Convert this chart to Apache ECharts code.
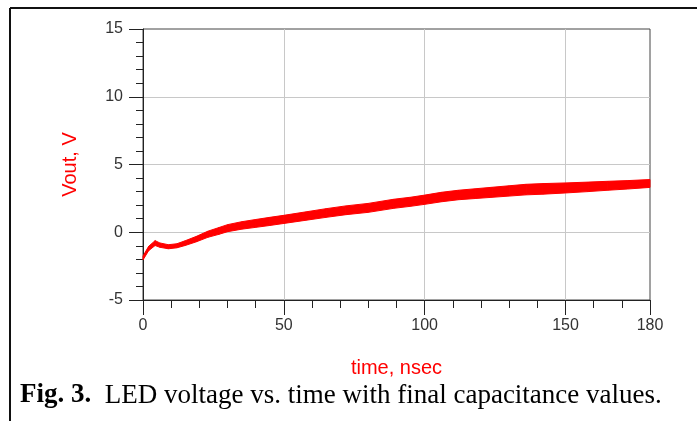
<!DOCTYPE html>
<html>
<head>
<meta charset="utf-8">
<title>LED voltage vs. time</title>
<script src="https://cdn.jsdelivr.net/npm/echarts@6/dist/echarts.min.js"></script>
<style>
  html, body { margin: 0; padding: 0; background: #fff; }
  #chart { width: 697px; height: 421px; }
</style>
</head>
<body>
<div id="chart"></div>
<script>
// time axis (nsec) and the trace
var timeNs = [0, 2, 4.3, 6, 9, 12, 15, 19, 23, 27, 30, 35, 40, 45, 50, 58, 65, 72, 80, 89, 95, 100, 106, 112, 118, 124, 130, 136, 142, 150, 158, 165, 172, 180];
var voutV = [-1.9, -1.2, -0.8, -0.95, -1.07, -1.0, -0.8, -0.5, -0.15, 0.1, 0.3, 0.5, 0.65, 0.8, 0.95, 1.2, 1.42, 1.62, 1.8, 2.1, 2.25, 2.4, 2.6, 2.75, 2.85, 2.95, 3.05, 3.15, 3.2, 3.27, 3.35, 3.43, 3.5, 3.6];
// thickness of the noisy band (V)
var noiseV = [0.28, 0.32, 0.36, 0.32, 0.3, 0.3, 0.35, 0.4, 0.45, 0.5, 0.52, 0.55, 0.58, 0.6, 0.6, 0.62, 0.64, 0.65, 0.66, 0.67, 0.67, 0.68, 0.7, 0.7, 0.72, 0.74, 0.76, 0.78, 0.78, 0.74, 0.7, 0.66, 0.62, 0.58];

var xTicks = [0, 50, 100, 150, 180];
var yTicks = [-5, 0, 5, 10, 15];

// one item per segment: t0, v0, s0, t1, v1, s1
var segments = [];
for (var i = 0; i < timeNs.length - 1; i++) {
  segments.push([timeNs[i], voutV[i], noiseV[i], timeNs[i + 1], voutV[i + 1], noiseV[i + 1]]);
}

function renderBand(params, api) {
  var t0 = api.value(0), v0 = api.value(1), s0 = api.value(2);
  var t1 = api.value(3), v1 = api.value(4), s1 = api.value(5);
  var pts = [
    api.coord([t0, v0 - s0 / 2]),
    api.coord([t1, v1 - s1 / 2]),
    api.coord([t1, v1 + s1 / 2]),
    api.coord([t0, v0 + s0 / 2])
  ];
  return {
    type: 'polygon',
    shape: { points: pts },
    style: { fill: '#f00', stroke: '#f00', lineWidth: 1 }
  };
}

var chart = echarts.init(document.getElementById('chart'));

var axisFont = { fontFamily: 'Liberation Sans', fontSize: 16, color: '#333' };

chart.setOption({
  animation: false,
  grid: {
    left: 143, top: 29, right: 47, bottom: 121,
    show: true, borderColor: '#444', borderWidth: 1, backgroundColor: '#fff'
  },
  xAxis: [
    {
      // minor ticks every 10 ns
      type: 'value', position: 'bottom', min: 0, max: 180, interval: 10,
      axisLine: { onZero: false, lineStyle: { color: '#222', width: 1 } },
      axisTick: { length: 8, lineStyle: { color: '#222' } },
      axisLabel: { show: false },
      splitLine: { show: false }
    },
    {
      type: 'value', position: 'bottom', min: xTicks[0], max: xTicks[xTicks.length - 1], interval: 50,
      name: 'time, nsec', nameLocation: 'middle', nameGap: 58,
      nameTextStyle: { fontFamily: 'Liberation Sans', fontSize: 20, color: '#f00' },
      axisLine: { onZero: false, lineStyle: { color: '#222', width: 1 } },
      axisTick: { length: 15, lineStyle: { color: '#222' } },
      axisLabel: Object.assign({ margin: 18 }, axisFont),
      splitLine: { show: true, showMinLine: false, showMaxLine: false, lineStyle: { color: '#c8c8c8' } }
    }
  ],
  yAxis: {
    type: 'value', min: yTicks[0], max: yTicks[yTicks.length - 1], interval: 5,
    name: 'Vout, V', nameLocation: 'middle', nameGap: 63,
    nameTextStyle: { fontFamily: 'Liberation Sans', fontSize: 20, color: '#f00' },
    axisLine: { onZero: false, lineStyle: { color: '#222', width: 1 } },
    axisTick: { length: 14, lineStyle: { color: '#222' } },
    minorTick: { show: true, splitNumber: 5, length: 7, lineStyle: { color: '#222' } },
    axisLabel: Object.assign({ margin: 20 }, axisFont),
    splitLine: { show: true, showMinLine: false, showMaxLine: false, lineStyle: { color: '#c8c8c8' } }
  },
  series: [
    {
      type: 'custom', xAxisIndex: 1, data: segments, silent: true,
      encode: { x: [0, 3], y: [1, 4] },
      renderItem: renderBand
    }
  ],
  graphic: [
    { type: 'line', shape: { x1: 10, y1: 8, x2: 697, y2: 8 }, style: { stroke: '#111', lineWidth: 2 } },
    { type: 'line', shape: { x1: 10, y1: 8, x2: 10, y2: 421 }, style: { stroke: '#111', lineWidth: 2 } },
    {
      type: 'text', left: 20, top: 382,
      style: {
        text: '{b|Fig. 3.}  LED voltage vs. time with final capacitance values.',
        fontFamily: 'Liberation Serif', fontSize: 27, fill: '#000',
        rich: { b: { fontFamily: 'Liberation Serif', fontSize: 27, fontWeight: 'bold' } }
      }
    }
  ]
});
</script>
</body>
</html>
